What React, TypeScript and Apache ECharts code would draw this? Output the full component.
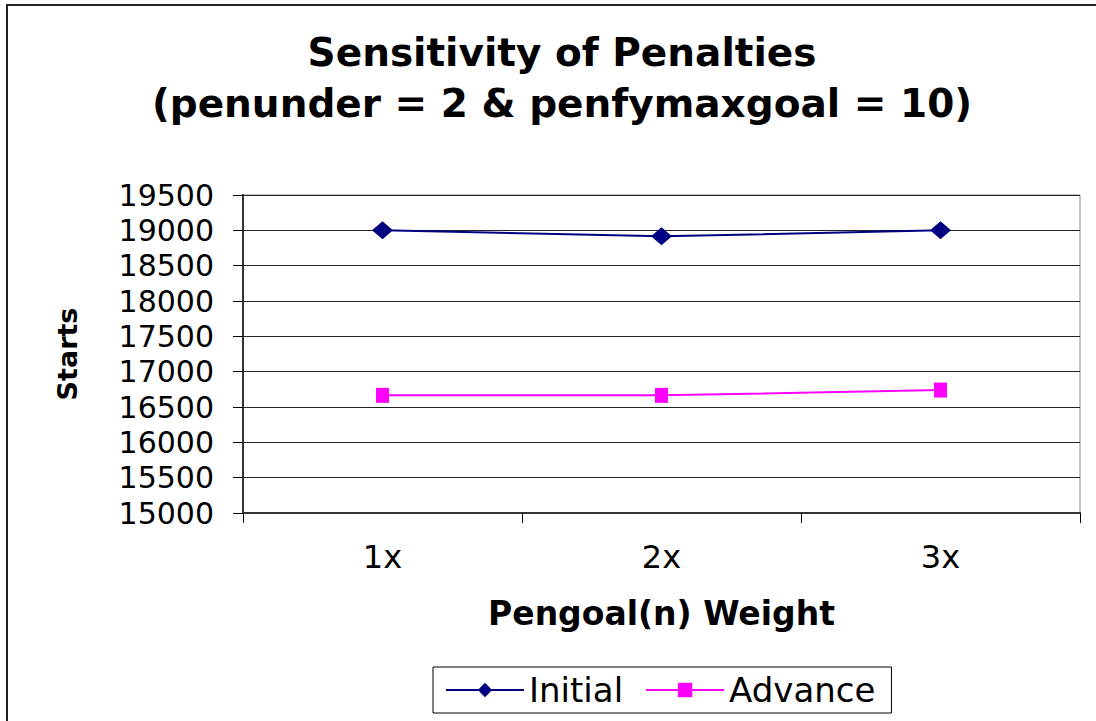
import React, { useEffect, useRef } from "react";
import * as echarts from "echarts";

const categories = ["1x", "2x", "3x"];
const initialValues = [19000, 18915, 19000];
const advanceValues = [16665, 16665, 16740];
const titleLines = ["Sensitivity of Penalties", "(penunder = 2 & penfymaxgoal = 10)"];

export default function App() {
  const ref = useRef<HTMLDivElement>(null);
  useEffect(() => {
    document.body.style.margin = "0";
    const chart = echarts.init(ref.current!, null, { renderer: "svg" });
    const font = "'DejaVu Sans', sans-serif";
    chart.setOption({
      animation: false,
      backgroundColor: "#ffffff",
      textStyle: { fontFamily: font },
      title: {
        text: titleLines.join("\n"),
        left: 557,
        textAlign: "center",
        top: 22,
        textStyle: { fontSize: 39, fontWeight: "bold", color: "#000", lineHeight: 51, fontFamily: font },
      },
      grid: { left: 243, right: 16, top: 195, bottom: 208, show: true, borderColor: "#888", borderWidth: 1 },
      xAxis: {
        type: "category",
        data: categories,
        boundaryGap: true,
        name: "Pengoal(n) Weight",
        nameLocation: "middle",
        nameGap: 84,
        nameTextStyle: { fontSize: 33, fontWeight: "bold", color: "#000", fontFamily: font },
        axisLine: { lineStyle: { color: "#333", width: 2 } },
        axisTick: { show: true, length: 10, lineStyle: { color: "#000" } },
        axisLabel: { fontSize: 32, color: "#000", margin: 28, fontFamily: font },
      },
      yAxis: {
        type: "value",
        min: 15000,
        max: 19500,
        interval: 500,
        name: "Starts",
        nameLocation: "middle",
        nameGap: 162,
        nameTextStyle: { fontSize: 27, fontWeight: "bold", color: "#000", fontFamily: font },
        axisLine: { show: true, lineStyle: { color: "#333", width: 2 } },
        axisTick: { show: true, length: 10, lineStyle: { color: "#000" } },
        axisLabel: { fontSize: 30, color: "#000", margin: 29, fontFamily: font, formatter: (v: number) => String(v) },
        splitLine: { show: true, lineStyle: { color: "#222", width: 1 } },
      },
      legend: {
        left: 433,
        top: 667,
        itemWidth: 78,
        itemHeight: 18,
        itemGap: 22,
        padding: [6, 16, 6, 12],
        borderColor: "#000",
        borderWidth: 1,
        textStyle: { fontSize: 34, color: "#000", fontFamily: font },
        data: ["Initial", "Advance"],
      },
      series: [
        {
          name: "Initial",
          type: "line",
          data: initialValues,
          symbol: "diamond",
          symbolSize: [21, 18],
          lineStyle: { color: "#000080", width: 2 },
          itemStyle: { color: "#000080" },
        },
        {
          name: "Advance",
          type: "line",
          data: advanceValues,
          symbol: "rect",
          symbolSize: [13, 15],
          lineStyle: { color: "#ff00ff", width: 2 },
          itemStyle: { color: "#ff00ff" },
        },
      ],
      graphic: [
        {
          type: "rect",
          shape: { x: 7, y: 5, width: 1100, height: 730 },
          style: { fill: "none", stroke: "#222", lineWidth: 2 },
          silent: true,
        },
      ],
    });
    return () => chart.dispose();
  }, []);
  return <div ref={ref} style={{ width: 1096, height: 721 }} />;
}
